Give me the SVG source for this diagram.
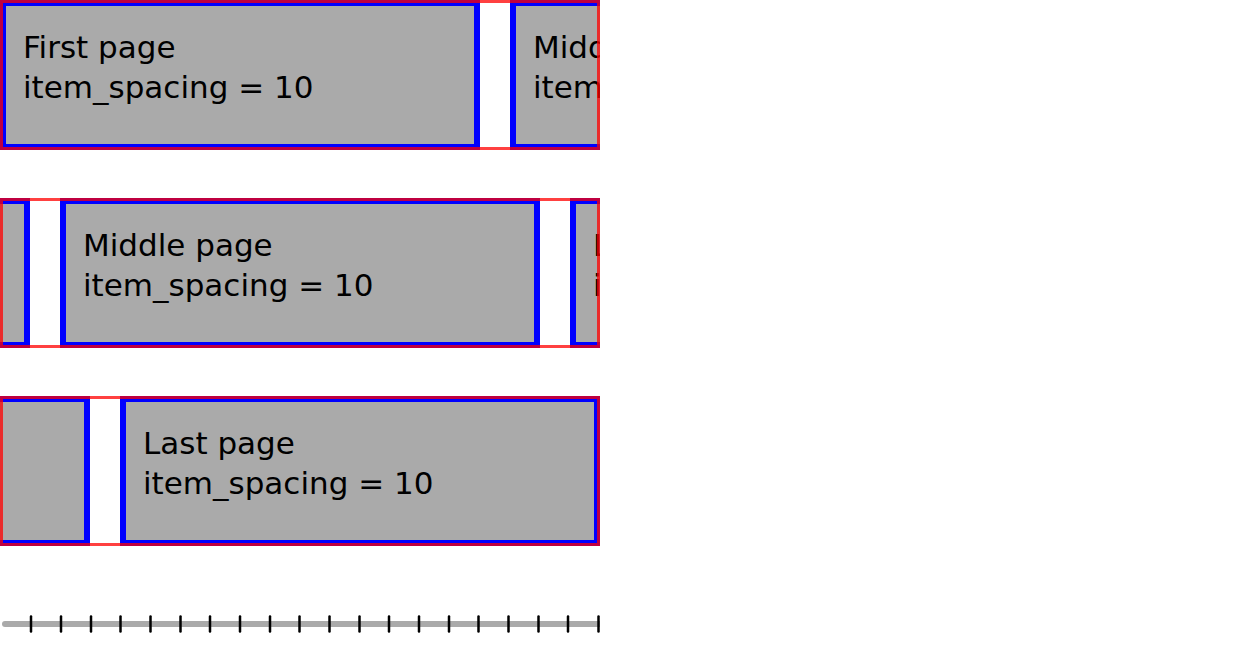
<svg xmlns="http://www.w3.org/2000/svg" width="1242" height="654" viewBox="0 0 1242 654">
<style>
.item{fill:#aaaaaa;stroke:#0000ff;stroke-width:6}
.vp{fill:none;stroke:#ff0000;stroke-opacity:0.75;stroke-width:3}
.t{font-family:"DejaVu Sans",sans-serif;font-size:31px;fill:#000}
.tick{stroke:#000;stroke-width:2.5;stroke-linecap:round}
</style>
<defs>
<clipPath id="c1"><rect x="0" y="0" width="600" height="150"/></clipPath>
<clipPath id="c2"><rect x="0" y="198" width="600" height="150"/></clipPath>
<clipPath id="c3"><rect x="0" y="396" width="600" height="150"/></clipPath>
<clipPath id="cr"><rect x="0" y="600" width="600" height="50"/></clipPath>
</defs>
<rect width="1242" height="654" fill="#fff"/>
<g id="row1">
<g clip-path="url(#c1)">
<g id="r1-first"><rect class="item" x="3" y="3" width="474" height="144"/><text class="t" x="23" y="58">First page</text><text class="t" x="23" y="98">item_spacing = 10</text></g>
<g id="r1-middle"><rect class="item" x="513" y="3" width="474" height="144"/><text class="t" x="533" y="58">Middle page</text><text class="t" x="533" y="98">item_spacing = 10</text></g>
</g>
<rect class="vp" x="1.5" y="1.5" width="597" height="147"/>
</g>
<g id="row2">
<g clip-path="url(#c2)">
<g id="r2-first"><rect class="item" x="-447" y="201" width="474" height="144"/></g>
<g id="r2-middle"><rect class="item" x="63" y="201" width="474" height="144"/><text class="t" x="83" y="256">Middle page</text><text class="t" x="83" y="296">item_spacing = 10</text></g>
<g id="r2-last"><rect class="item" x="573" y="201" width="474" height="144"/><text class="t" x="593" y="256">Last page</text><text class="t" x="593" y="296">item_spacing = 10</text></g>
</g>
<rect class="vp" x="1.5" y="199.5" width="597" height="147"/>
</g>
<g id="row3">
<g clip-path="url(#c3)">
<g id="r3-middle"><rect class="item" x="-387" y="399" width="474" height="144"/></g>
<g id="r3-last"><rect class="item" x="123" y="399" width="474" height="144"/><text class="t" x="143" y="454">Last page</text><text class="t" x="143" y="494">item_spacing = 10</text></g>
</g>
<rect class="vp" x="1.5" y="397.5" width="597" height="147"/>
</g>
<g id="ruler" clip-path="url(#cr)">
<line x1="5" y1="624" x2="604" y2="624" stroke="#aaaaaa" stroke-width="6" stroke-linecap="round"/>
<g class="tick">
<line x1="31" y1="616.5" x2="31" y2="631.5"/><line x1="61" y1="616.5" x2="61" y2="631.5"/><line x1="91" y1="616.5" x2="91" y2="631.5"/><line x1="120.5" y1="616.5" x2="120.5" y2="631.5"/><line x1="150.5" y1="616.5" x2="150.5" y2="631.5"/><line x1="180.5" y1="616.5" x2="180.5" y2="631.5"/><line x1="210" y1="616.5" x2="210" y2="631.5"/><line x1="240" y1="616.5" x2="240" y2="631.5"/><line x1="270" y1="616.5" x2="270" y2="631.5"/><line x1="299.5" y1="616.5" x2="299.5" y2="631.5"/><line x1="329.5" y1="616.5" x2="329.5" y2="631.5"/><line x1="359.5" y1="616.5" x2="359.5" y2="631.5"/><line x1="389" y1="616.5" x2="389" y2="631.5"/><line x1="419" y1="616.5" x2="419" y2="631.5"/><line x1="449" y1="616.5" x2="449" y2="631.5"/><line x1="478.5" y1="616.5" x2="478.5" y2="631.5"/><line x1="508.5" y1="616.5" x2="508.5" y2="631.5"/><line x1="538.5" y1="616.5" x2="538.5" y2="631.5"/><line x1="568" y1="616.5" x2="568" y2="631.5"/><line x1="598.5" y1="616.5" x2="598.5" y2="631.5"/>
</g>
</g>
</svg>
